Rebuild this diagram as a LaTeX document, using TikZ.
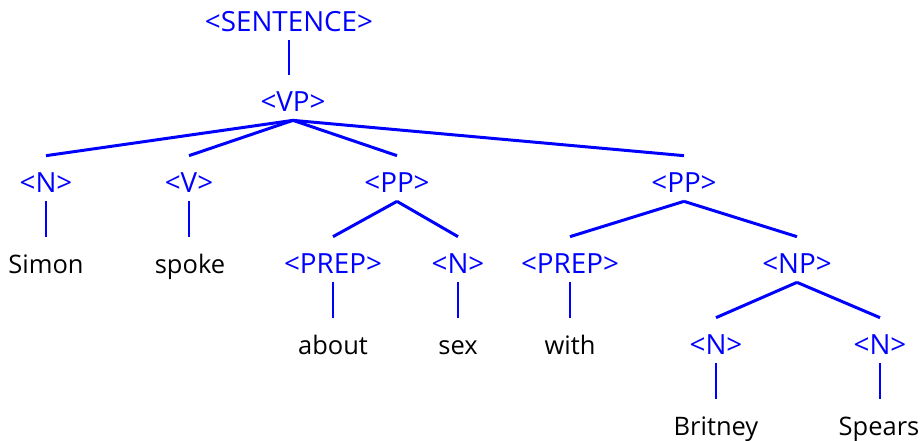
\documentclass[tikz,border=0pt]{standalone}
\usepackage{fontspec}
\setmainfont{Open Sans}
\tikzset{
  cat/.style={text=blue, anchor=base, inner sep=0pt, text height=0.72cm, text depth=0.18cm, font=\fontsize{15.8}{18}\selectfont},
  word/.style={cat, text=black, font=\fontsize{14.5}{18}\selectfont},
  branch/.style={draw=blue, line width=1.7pt}
}

\begin{document}
\begin{tikzpicture}[x=0.02cm, y=-0.02cm]
			%%%%% START %%%%%
			\useasboundingbox (0, 0) rectangle (924, 440);
			
			\node[cat] (sent) at (289, 31) {<SENTENCE>};
			\node[cat] (vp) at (293, 111) {<VP>};
			
			\node[cat] (n1) at (46, 192) {<N>};
			\node[cat] (v1) at (189, 192) {<V>};
			\node[cat] (pp1) at (397, 192) {<PP>};
			\node[cat] (pp2) at (684, 192) {<PP>};
			
			\node[word] (simon) at (46, 273) {Simon};
			\node[word] (spoke) at (190, 273) {spoke};
			\node[cat] (prep1) at (333, 273) {<PREP>};
			\node[cat] (n2) at (458, 273) {<N>};
			\node[cat] (prep2) at (570, 273) {<PREP>};
			\node[cat] (np) at (797, 273) {<NP>};
			
			\node[word] (about) at (333, 354) {about};
			\node[word] (sex) at (458, 354) {sex};
			\node[word] (with) at (570, 354) {with};
			\node[cat] (n3) at (716, 354) {<N>};
			\node[cat] (n4) at (880, 354) {<N>};
			
			\node[word] (britney) at (716, 435) {Britney};
			\node[word] (spears) at (879, 435) {Spears};
			
			\draw[branch] (sent.south) -- (sent.south |- vp.north);
			\draw[branch] (vp.south) -- (n1.north);
			\draw[branch] (vp.south) -- (v1.north);
			\draw[branch] (vp.south) -- (pp1.north);
			\draw[branch] (vp.south) -- (pp2.north);
			
			\draw[branch] (n1.south) -- (n1.south |- simon.north);
			\draw[branch] (v1.south) -- (v1.south |- spoke.north);
			\draw[branch] (pp1.south) -- (prep1.north);
			\draw[branch] (pp1.south) -- (n2.north);
			\draw[branch] (pp2.south) -- (prep2.north);
			\draw[branch] (pp2.south) -- (np.north);
			
			\draw[branch] (prep1.south) -- (prep1.south |- about.north);
			\draw[branch] (n2.south) -- (n2.south |- sex.north);
			\draw[branch] (prep2.south) -- (prep2.south |- with.north);
			\draw[branch] (np.south) -- (n3.north);
			\draw[branch] (np.south) -- (n4.north);
			
			\draw[branch] (n3.south) -- (n3.south |- britney.north);
			\draw[branch] (n4.south) -- (n4.south |- spears.north);
			%%%%% END %%%%%
\end{tikzpicture}
\end{document}
